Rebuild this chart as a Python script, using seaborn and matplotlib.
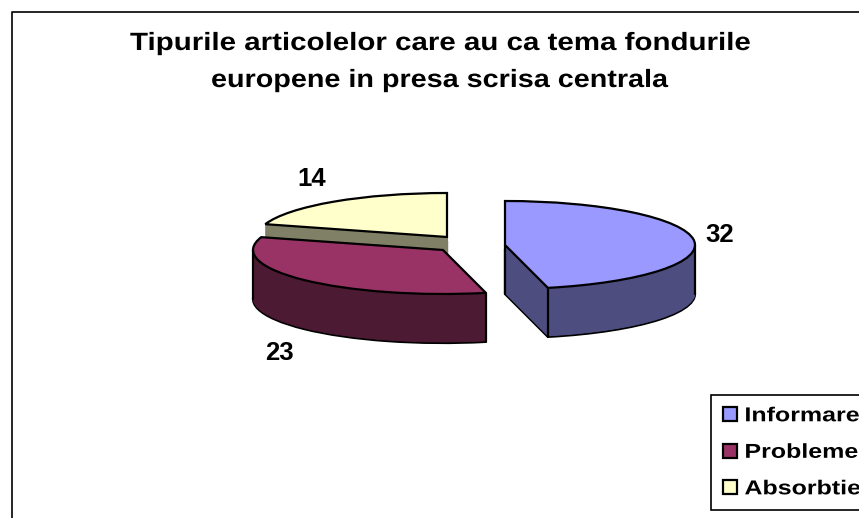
import matplotlib
matplotlib.use('Agg')
import numpy as np
import seaborn as sns
import matplotlib.pyplot as plt
from matplotlib.patheffects import AbstractPathEffect
from matplotlib.transforms import Affine2D

categories = ['Informare', 'Probleme', 'Absorbtie']
values = [32, 23, 14]
title_lines = ['Tipurile articolelor care au ca tema fondurile', 'europene in presa scrisa centrala']

top_colors = ['#9999FF', '#993366', '#FFFFCC']
wall_colors = ['#4D4D80', '#4D1A33', '#808066']

W, H = 859, 518
RADIUS = 190
SQUASH = 44 / RADIUS
DEPTH = 49

# pie centres in pixels, one per slice (exploded slice sits apart)
centres = [(505, 245), (443, 250), (447, 237)]
draw_order = [2, 1, 0]


# the original text is letter-spaced, stretch glyphs sideways to get the same width
class StretchX(AbstractPathEffect):
    def __init__(self, k):
        super().__init__()
        self.k = k

    def draw_path(self, renderer, gc, tpath, affine, rgbFace=None):
        renderer.draw_path(gc, tpath, Affine2D().scale(self.k, 1) + affine, rgbFace)


def py(pixel_y):
    return (H - pixel_y) / SQUASH


sns.set_theme(style='white')
plt.rcParams['font.family'] = ['Liberation Sans', 'DejaVu Sans']

fig = plt.figure(figsize=(W / 100, H / 100), dpi=100)
ax = fig.add_axes([0, 0, 1, 1])

legend_handles = [None] * 3
fracs = np.array(values) / sum(values)
end_angles = 90 - 360 * np.cumsum(fracs)


def draw_layer(i, offset, colors, edge, lw):
    cx, cy = centres[i]
    wedges, _ = ax.pie(values, startangle=90, counterclock=False, radius=RADIUS,
                       center=(cx, py(cy + offset)), colors=colors,
                       wedgeprops={'edgecolor': edge, 'linewidth': lw})
    for j, w in enumerate(wedges):
        w.set_visible(j == i)
    return wedges[i]


for i in draw_order:
    draw_layer(i, DEPTH, wall_colors, 'black', 1.6)
    for off in range(DEPTH - 1, 0, -1):
        draw_layer(i, off, wall_colors, wall_colors[i], 0.6)
    cx, cy = centres[i]
    # vertical corner lines of the side wall
    corners = []
    if i == 0:
        corners = [end_angles[i], 0]
        ax.plot([cx, cx], [py(cy), py(cy + DEPTH)], color='black', lw=1.6)
    if i == 1:
        corners = [end_angles[0], 180]
    for a in corners:
        x = cx + RADIUS * np.cos(np.radians(a))
        y = py(cy) + RADIUS * np.sin(np.radians(a))
        ax.plot([x, x], [y, y - DEPTH / SQUASH], color='black', lw=1.6)
    legend_handles[i] = draw_layer(i, 0, top_colors, 'black', 1.6)

ax.set_xlim(0, W)
ax.set_ylim(0, H / SQUASH)
ax.set_aspect('auto')
ax.set_axis_off()

# chart area border, cut by the picture on the right and bottom
ax.plot([11.5, 11.5, W + 5], [py(H + 5), py(11.5), py(11.5)], color='black', lw=1.2, clip_on=False)

title_pos = [(130, 50), (211, 87)]
title_stretch = [1.18, 1.15]
for line, (x, y), k in zip(title_lines, title_pos, title_stretch):
    t = ax.text(x, py(y), line, ha='left', va='baseline', fontsize=18,
                fontweight='bold', color='black')
    t.set_path_effects([StretchX(k)])

label_pos = [(720, 235), (279, 353), (312, 179)]
for val, (x, y) in zip(values, label_pos):
    ax.text(x, py(y), str(val), ha='center', va='center', fontsize=18.5, fontweight='bold', color='black')

leg = ax.legend(legend_handles, categories, loc='lower left',
                bbox_to_anchor=(711 / W, (H - 510) / H, 170 / W, 114 / H), bbox_transform=fig.transFigure,
                mode='expand', frameon=True, fancybox=False, edgecolor='black', framealpha=1,
                prop={'family': 'Liberation Sans', 'weight': 'bold', 'size': 14.5},
                labelcolor='black', handlelength=0.7, handleheight=0.7, handletextpad=0.38,
                labelspacing=0.87, borderpad=0.58, borderaxespad=0)
leg.get_frame().set_linewidth(1.2)
for t in leg.get_texts():
    t.set_path_effects([StretchX(1.24)])

fig.savefig('out.png', dpi=100)
